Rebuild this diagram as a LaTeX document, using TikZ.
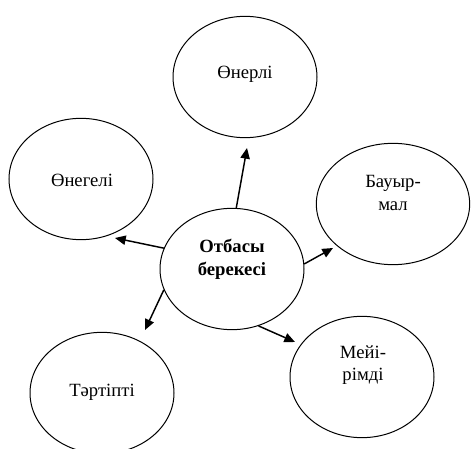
\documentclass[tikz,border=0pt]{standalone}
\usepackage{fontspec}
\setmainfont{Liberation Serif}
\usetikzlibrary{shapes.geometric}
\usetikzlibrary{arrows.meta}
\usetikzlibrary{positioning}

\begin{document}
\begin{tikzpicture}[x=0.75pt,y=-0.75pt,
    oval/.style={draw,ellipse,line width=0.75pt,minimum width=108pt,minimum height=91pt,inner sep=0pt},
    txt/.style={align=center,inner sep=0pt,font=\fontsize{14}{17}\selectfont},
    arr/.style={-{Triangle[length=8pt,width=7pt]},line width=1.1pt}]
    \useasboundingbox (0,0) rectangle (471,449);
    \clip (0,0) rectangle (471,449);
    % ellipses
    \node[oval] (ctr) at (232,269) {};
    \node[oval] (oner) at (245,77) {};
    \node[oval] (oneg) at (81,179) {};
    \node[oval,minimum width=115pt] (bau) at (393,204) {};
    \node[oval] (tar) at (102,393) {};
    \node[oval] (mei) at (362,377) {};
    % texts
    \node[txt,font=\fontsize{14}{17}\selectfont\bfseries] (ctrtxt) at (232,259) {Отбасы\\берекесі};
    \node[txt] (onertxt) at (245,74) {Өнерлі};
    \node[txt] (onegtxt) at (82,180) {Өнегелі};
    \node[txt] (bautxt) at (393,193) {Бауыр-\\мал};
    \node[txt] (tartxt) at (102,392) {Тәртіпті};
    \node[txt] (meitxt) at (363,365) {Мейі-\\рімді};
    % arrow tips
    \coordinate (up) at (247,148);
    \coordinate (lt) at (115,238);
    \coordinate (rt) at (333,248);
    \coordinate (dl) at (145,330);
    \coordinate (dr) at (295,342);
    \draw[arr] (ctr.86) -- (up);
    \draw[arr] (ctr.163) -- (lt);
    \draw[arr] (ctr.4) -- (rt);
    \draw[arr] (ctr.197) -- (dl);
    \draw[arr] (ctr.295) -- (dr);
\end{tikzpicture}
\end{document}
